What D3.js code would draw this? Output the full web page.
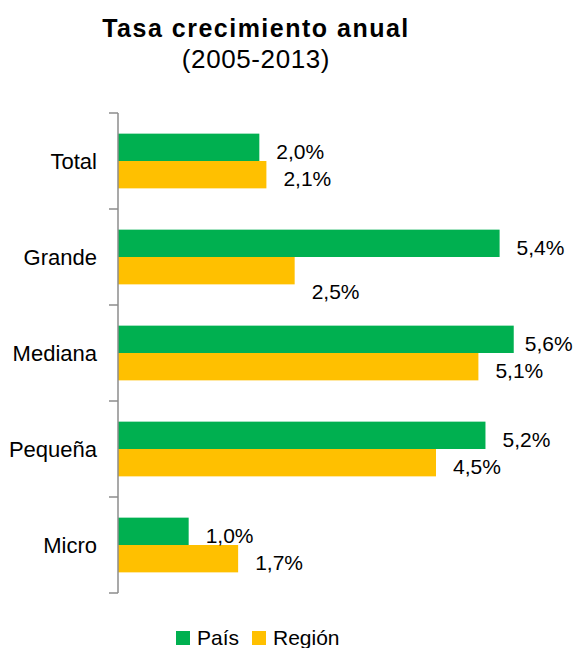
<!DOCTYPE html>
<html>
<head>
<meta charset="utf-8">
<title>Tasa crecimiento anual</title>
<style>
  body { margin: 0; background: #fff; }
  svg text { font-family: "Liberation Sans", Arial, sans-serif; fill: #000; }
</style>
</head>
<body>
<script src="https://cdnjs.cloudflare.com/ajax/libs/d3/7.8.5/d3.min.js"></script>
<script>
// data
var categories = ["Total", "Grande", "Mediana", "Pequeña", "Micro"];
var series = ["País", "Región"];
var pais = [2.0, 5.4, 5.6, 5.2, 1.0];
var region = [2.1, 2.5, 5.1, 4.5, 1.7];
var colors = ["#00b050", "#ffc000"];

// a couple of labels were moved by hand in the original
var labelNudge = { "Grande|Región": [0, 17], "Mediana|País": [-6, 0] };

var W = 573, H = 648;
var plot = { left: 118, top: 113, right: 542, bottom: 593 };

var svg = d3.select("body").append("svg")
  .attr("width", W).attr("height", H);

// title
svg.append("text")
  .attr("x", 256).attr("y", 37)
  .attr("text-anchor", "middle")
  .style("font-weight", "bold").style("font-size", "25px")
  .style("letter-spacing", "1.5px")
  .text("Tasa crecimiento anual");
svg.append("text")
  .attr("x", 256).attr("y", 68)
  .attr("text-anchor", "middle")
  .style("font-size", "26px")
  .style("letter-spacing", "0.6px")
  .text("(2005-2013)");

// scales
var x = d3.scaleLinear().domain([0, 6]).range([plot.left, plot.right]);
var y = d3.scaleBand().domain(categories).range([plot.top, plot.bottom])
  .paddingInner(0.43).paddingOuter(0.215);
var ySub = d3.scaleBand().domain(series).range([0, y.bandwidth()]);

var rows = categories.map(function(c, i) {
  return { cat: c, vals: [pais[i], region[i]] };
});

var fmt = d3.formatLocale({ decimal: ",", thousands: ".", grouping: [3], currency: ["", ""] }).format(".1f");

// bars
var groups = svg.selectAll(".cat").data(rows).enter().append("g")
  .attr("class", "cat")
  .attr("transform", function(d) { return "translate(0," + y(d.cat) + ")"; });

groups.selectAll("rect")
  .data(function(d) { return d.vals.map(function(v, j) { return { cat: d.cat, s: series[j], v: v, j: j }; }); })
  .enter().append("rect")
  .attr("x", x(0))
  .attr("y", function(d) { return ySub(d.s); })
  .attr("height", ySub.bandwidth())
  .attr("width", function(d) { return x(d.v) - x(0); })
  .attr("fill", function(d) { return colors[d.j]; });

groups.selectAll("text.lbl")
  .data(function(d) { return d.vals.map(function(v, j) { return { cat: d.cat, s: series[j], v: v }; }); })
  .enter().append("text")
  .attr("class", "lbl")
  .attr("x", function(d) { var n = labelNudge[d.cat + "|" + d.s] || [0, 0]; return x(d.v) + 17 + n[0]; })
  .attr("y", function(d) { var n = labelNudge[d.cat + "|" + d.s] || [0, 0]; return ySub(d.s) + ySub.bandwidth() / 2 + 4 + n[1]; })
  .attr("dy", "0.35em")
  .style("font-size", "21px")
  .text(function(d) { return fmt(d.v) + "%"; });

// category axis with ticks between categories
svg.append("line")
  .attr("x1", plot.left).attr("x2", plot.left)
  .attr("y1", plot.top).attr("y2", plot.bottom)
  .attr("stroke", "#8c8c8c").attr("stroke-width", 1.5);

var step = y.step();
var tickY = d3.range(categories.length + 1).map(function(i) { return plot.top + i * step; });
svg.selectAll(".tick").data(tickY).enter().append("line")
  .attr("x1", plot.left - 9).attr("x2", plot.left)
  .attr("y1", function(d) { return d; }).attr("y2", function(d) { return d; })
  .attr("stroke", "#8c8c8c").attr("stroke-width", 1.5);

svg.selectAll(".catlbl").data(categories).enter().append("text")
  .attr("x", 97)
  .attr("y", function(d) { return y(d) + y.bandwidth() / 2; })
  .attr("dy", "0.35em")
  .attr("text-anchor", "end")
  .style("font-size", "22px")
  .text(function(d) { return d; });

// legend
var legX = [176, 252];
var leg = svg.selectAll(".leg").data(series).enter().append("g")
  .attr("transform", function(d, i) { return "translate(" + legX[i] + ",631)"; });
leg.append("rect").attr("width", 14).attr("height", 14)
  .attr("fill", function(d, i) { return colors[i]; });
leg.append("text").attr("x", 21).attr("y", 7).attr("dy", "0.35em")
  .style("font-size", "21px")
  .text(function(d) { return d; });
</script>
</body>
</html>
